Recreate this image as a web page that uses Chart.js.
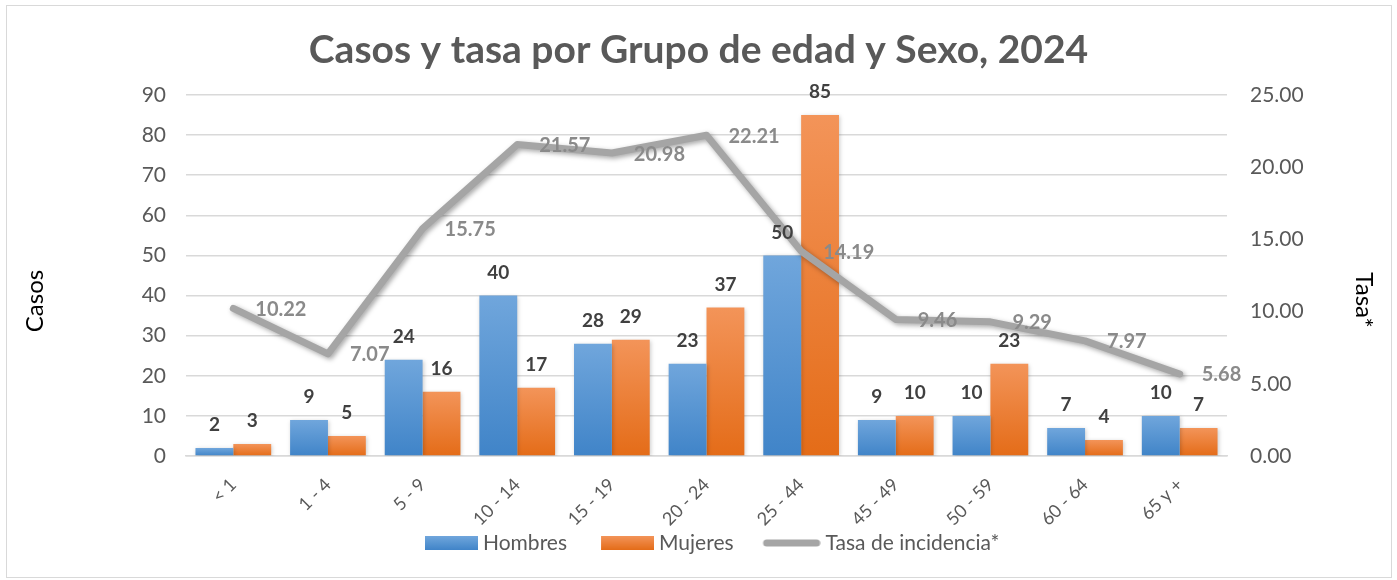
<!DOCTYPE html>
<html>
<head>
<meta charset="utf-8">
<script src="https://cdn.jsdelivr.net/npm/chart.js@4/dist/chart.umd.min.js"></script>
<style>
  html, body { margin: 0; padding: 0; background: #fff; }
  #wrap { position: relative; width: 1397px; height: 580px; }
  #frame { position: absolute; left: 6px; top: 5px; width: 1386px; height: 573px; border: 1px solid #d9d9d9; box-sizing: border-box; pointer-events: none; }
</style>
</head>
<body>
<div id="wrap">
  <canvas id="chart" width="1397" height="580"></canvas>
  <div id="frame"></div>
</div>
<script>
// age groups and values
const categories = ['< 1', '1 - 4', '5 - 9', '10 - 14', '15 - 19', '20 - 24', '25 - 44', '45 - 49', '50 - 59', '60 - 64', '65 y +'];
const hombres = [2, 9, 24, 40, 28, 23, 50, 9, 10, 7, 10];
const mujeres = [3, 5, 16, 17, 29, 37, 85, 10, 23, 4, 7];
const tasa = [10.22, 7.07, 15.75, 21.57, 20.98, 22.21, 14.19, 9.46, 9.29, 7.97, 5.68];
const casosRange = [0, 90, 10];
const tasaRange = [0, 25, 5];

const BLUE = ['#70a6dc', '#4084c8'];
const ORANGE = ['#f39459', '#e46c18'];
const GRAY = '#a5a5a5';
const FONT = 'Lato';

// each bar gets its own light-to-dark gradient, like the Excel original
function barFill(colors) {
  return function(ctx) {
    const chart = ctx.chart;
    if (ctx.type !== 'data' || !chart.chartArea) return colors[1];
    const y = chart.scales.y;
    const top = y.getPixelForValue(ctx.raw);
    const base = y.getPixelForValue(0);
    if (!isFinite(top) || top === base) return colors[1];
    const g = chart.ctx.createLinearGradient(0, top, 0, base);
    g.addColorStop(0, colors[0]);
    g.addColorStop(1, colors[1]);
    return g;
  };
}

// legend icons: the visible mark sits at the right end of a wider
// transparent canvas, which widens the gap between legend items
const ICON_SLOT = 75;
const ICON_W = ICON_SLOT + 11;

function legendBox(colors) {
  const c = document.createElement('canvas');
  c.width = ICON_W; c.height = 14;
  const x = c.getContext('2d');
  const g = x.createLinearGradient(0, 0, 0, 14);
  g.addColorStop(0, colors[0]);
  g.addColorStop(1, colors[1]);
  x.fillStyle = g;
  x.fillRect(ICON_W - 53, 0, 53, 14);
  return c;
}

function legendLine() {
  const c = document.createElement('canvas');
  c.width = ICON_W; c.height = 8;
  const x = c.getContext('2d');
  x.strokeStyle = GRAY;
  x.lineWidth = 7;
  x.lineCap = 'round';
  x.beginPath();
  x.moveTo(ICON_W - 54, 4);
  x.lineTo(ICON_W - 4, 4);
  x.stroke();
  return c;
}

const legendIcons = [legendBox(BLUE), legendBox(ORANGE), legendLine()];

// soft shadow under bars and the line
const shadowPlugin = {
  id: 'shadows',
  beforeDatasetDraw(chart, args) {
    const ctx = chart.ctx;
    ctx.save();
    if (args.index === 2) {
      ctx.shadowColor = 'rgba(0,0,0,0.35)';
      ctx.shadowBlur = 5;
      ctx.shadowOffsetX = 2;
      ctx.shadowOffsetY = 2;
    } else {
      ctx.shadowColor = 'rgba(0,0,0,0.2)';
      ctx.shadowBlur = 4;
      ctx.shadowOffsetX = 1;
      ctx.shadowOffsetY = 1;
    }
  },
  afterDatasetDraw(chart) {
    chart.ctx.restore();
  }
};

// value labels: above the bars, to the right of the line points
const labelPlugin = {
  id: 'valueLabels',
  afterDatasetsDraw(chart) {
    const ctx = chart.ctx;
    ctx.save();
    ctx.textBaseline = 'middle';
    [0, 1].forEach(function(i) {
      const values = chart.data.datasets[i].data;
      chart.getDatasetMeta(i).data.forEach(function(bar, j) {
        ctx.font = 'bold 19px ' + FONT;
        ctx.fillStyle = '#404040';
        ctx.textAlign = 'center';
        ctx.fillText(values[j], bar.x, bar.y - 23);
      });
    });
    chart.getDatasetMeta(2).data.forEach(function(pt, j) {
      ctx.font = 'bold 20px ' + FONT;
      ctx.fillStyle = '#8a8a8a';
      ctx.textAlign = 'left';
      ctx.fillText(tasa[j].toFixed(2), pt.x + 22, pt.y + 1);
    });
    ctx.restore();
  }
};

// axis titles sit a bit below the middle of the plot in the original
const axisTitles = {
  id: 'axisTitles',
  afterDraw(chart) {
    const ctx = chart.ctx;
    ctx.save();
    ctx.font = '24px ' + FONT;
    ctx.fillStyle = '#000';
    ctx.textAlign = 'center';
    ctx.textBaseline = 'middle';
    ctx.translate(35, 301);
    ctx.rotate(-Math.PI / 2);
    ctx.fillText('Casos', 0, 0);
    ctx.restore();
    ctx.save();
    ctx.font = '24px ' + FONT;
    ctx.fillStyle = '#000';
    ctx.textAlign = 'center';
    ctx.textBaseline = 'middle';
    ctx.translate(1364, 300);
    ctx.rotate(Math.PI / 2);
    ctx.fillText('Tasa*', 0, 0);
    ctx.restore();
  }
};

new Chart(document.getElementById('chart'), {
  type: 'bar',
  data: {
    labels: categories,
    datasets: [
      {
        label: 'Hombres',
        data: hombres,
        backgroundColor: barFill(BLUE),
        yAxisID: 'y',
        order: 1
      },
      {
        label: 'Mujeres',
        data: mujeres,
        backgroundColor: barFill(ORANGE),
        yAxisID: 'y',
        order: 1
      },
      {
        type: 'line',
        label: 'Tasa de incidencia*',
        data: tasa,
        borderColor: GRAY,
        borderWidth: 7,
        borderCapStyle: 'round',
        borderJoinStyle: 'round',
        pointRadius: 0,
        tension: 0,
        yAxisID: 'y1',
        order: 0
      }
    ]
  },
  options: {
    responsive: false,
    animation: false,
    datasets: {
      bar: { categoryPercentage: 0.8, barPercentage: 1.0 }
    },
    layout: { padding: { left: 10, right: 10, top: 0, bottom: 16.5 } },
    plugins: {
      title: {
        display: true,
        text: 'Casos y tasa por Grupo de edad y Sexo, 2024',
        color: '#595959',
        font: { family: FONT, size: 39, weight: 'bold' },
        padding: { top: 26.6, bottom: 21.6 }
      },
      legend: {
        position: 'bottom',
        labels: {
          usePointStyle: true,
          pointStyleWidth: ICON_SLOT,
          boxHeight: 14,
          padding: 6.5,
          color: '#595959',
          font: { family: FONT, size: 21 },
          generateLabels: function(chart) {
            return chart.data.datasets.map(function(ds, i) {
              return {
                text: ds.label,
                pointStyle: legendIcons[i],
                fontColor: '#595959',
                fillStyle: 'transparent',
                strokeStyle: 'transparent',
                lineWidth: 0,
                hidden: false,
                datasetIndex: i
              };
            });
          }
        }
      },
      tooltip: { enabled: false }
    },
    scales: {
      x: {
        grid: { display: false, drawTicks: false },
        border: { color: '#d9d9d9', width: 1.5 },
        ticks: {
          color: '#595959',
          font: { family: FONT, size: 18 },
          minRotation: 45,
          maxRotation: 45,
          padding: 18
        },
        afterFit: function(s) { s.height = 70; }
      },
      y: {
        position: 'left',
        min: casosRange[0],
        max: casosRange[1],
        ticks: {
          stepSize: casosRange[2],
          color: '#595959',
          font: { family: FONT, size: 21 },
          padding: 20
        },
        grid: { color: '#d9d9d9', lineWidth: 1.5, drawTicks: false },
        border: { display: false },
        afterFit: function(s) { s.width = 176; }
      },
      y1: {
        position: 'right',
        min: tasaRange[0],
        max: tasaRange[1],
        ticks: {
          stepSize: tasaRange[2],
          color: '#595959',
          font: { family: FONT, size: 21 },
          padding: 23,
          callback: function(v) { return v.toFixed(2); }
        },
        grid: { display: false, drawTicks: false },
        border: { display: false },
        afterFit: function(s) { s.width = 160; }
      }
    }
  },
  plugins: [shadowPlugin, labelPlugin, axisTitles]
});
</script>
</body>
</html>
